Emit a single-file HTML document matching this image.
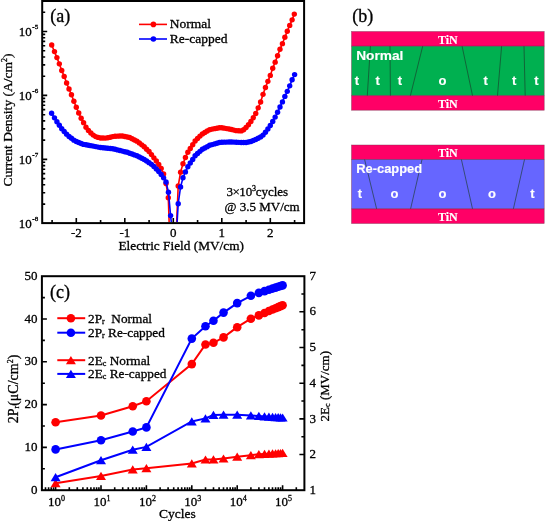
<!DOCTYPE html>
<html><head><meta charset="utf-8"><style>
html,body{margin:0;padding:0;background:#fff;}
body{width:550px;height:521px;overflow:hidden;font-family:"Liberation Serif",serif;}
svg{display:block;will-change:transform;}
text{stroke:#000;stroke-width:0.3px;}
text[fill="#fff"]{stroke:#fff;stroke-width:0.15px;}
</style></head><body>
<svg width="550" height="521" viewBox="0 0 550 521">
<defs><clipPath id="clipa"><rect x="43" y="2" width="260" height="220"/></clipPath>
<clipPath id="clipc"><rect x="43" y="277" width="260" height="213"/></clipPath></defs>
<rect width="550" height="521" fill="#fff"/>
<rect x="42.2" y="1" width="261.90000000000003" height="222.1" fill="none" stroke="#000" stroke-width="2"/>
<path d="M52.1 223.1v-3 M76.3 223.1v-5 M100.6 223.1v-3 M124.8 223.1v-5 M149.1 223.1v-3 M173.3 223.1v-5 M197.6 223.1v-3 M221.8 223.1v-5 M246.1 223.1v-3 M270.3 223.1v-5 M294.6 223.1v-3 M42.2 204.1h3 M42.2 192.8h3 M42.2 184.8h3 M42.2 178.6h3 M42.2 173.6h3 M42.2 169.3h3 M42.2 165.6h3 M42.2 162.3h3 M42.2 159.4h5 M42.2 140.1h3 M42.2 128.9h3 M42.2 120.9h3 M42.2 114.7h3 M42.2 109.6h3 M42.2 105.3h3 M42.2 101.6h3 M42.2 98.4h3 M42.2 95.4h5 M42.2 76.2h3 M42.2 64.9h3 M42.2 57.0h3 M42.2 50.8h3 M42.2 45.7h3 M42.2 41.4h3 M42.2 37.7h3 M42.2 34.4h3 M42.2 31.5h5 M42.2 12.3h3" stroke="#000" stroke-width="1.6" fill="none"/>
<text x="76.3" y="236.8" font-family="Liberation Serif" font-size="13" text-anchor="middle">-2</text>
<text x="124.8" y="236.8" font-family="Liberation Serif" font-size="13" text-anchor="middle">-1</text>
<text x="173.3" y="236.8" font-family="Liberation Serif" font-size="13" text-anchor="middle">0</text>
<text x="221.8" y="236.8" font-family="Liberation Serif" font-size="13" text-anchor="middle">1</text>
<text x="270.3" y="236.8" font-family="Liberation Serif" font-size="13" text-anchor="middle">2</text>
<text x="31.8" y="227.8" font-family="Liberation Serif" font-size="13" text-anchor="end">10</text>
<text x="32.3" y="221.2" font-family="Liberation Serif" font-size="7">-8</text>
<text x="31.8" y="163.9" font-family="Liberation Serif" font-size="13" text-anchor="end">10</text>
<text x="32.3" y="157.3" font-family="Liberation Serif" font-size="7">-7</text>
<text x="31.8" y="99.9" font-family="Liberation Serif" font-size="13" text-anchor="end">10</text>
<text x="32.3" y="93.3" font-family="Liberation Serif" font-size="7">-6</text>
<text x="31.8" y="36.0" font-family="Liberation Serif" font-size="13" text-anchor="end">10</text>
<text x="32.3" y="29.4" font-family="Liberation Serif" font-size="7">-5</text>
<text x="181.2" y="250.4" font-family="Liberation Serif" font-size="13.3" text-anchor="middle">Electric Field (MV/cm)</text>
<text transform="translate(11.9,120) rotate(-90)" font-family="Liberation Serif" font-size="13.5" text-anchor="middle">Current Density (A/cm<tspan font-size="8" dy="-5">2</tspan><tspan dy="5">)</tspan></text>
<text x="50.3" y="22.3" font-family="Liberation Serif" font-size="18">(a)</text>
<path d="M139 24.4H167" stroke="#f00" stroke-width="1.6"/><circle cx="153.4" cy="24.4" r="2.8" fill="#f00"/>
<path d="M139 39H167" stroke="#00f" stroke-width="1.6"/><circle cx="153.4" cy="39" r="2.8" fill="#00f"/>
<text x="169.8" y="28.4" font-family="Liberation Serif" font-size="13.5">Normal</text>
<text x="169.8" y="43.0" font-family="Liberation Serif" font-size="13.5">Re-capped</text>
<text x="226.5" y="196" font-family="Liberation Serif" font-size="13">3<tspan dx="-0.6">×</tspan><tspan dx="-0.5">10</tspan><tspan font-size="8" dy="-5.5" dx="-0.3">3</tspan><tspan dy="5.5" dx="-0.3">cycles</tspan></text>
<text x="224.5" y="210.7" font-family="Liberation Serif" font-size="13">@ 3.5 MV/cm</text>
<g clip-path="url(#clipa)">
<path d="M51.70 45.00 L54.48 51.62 L56.90 57.61 L59.33 63.83 L61.75 70.44 L64.18 76.38 L66.60 83.07 L69.03 88.94 L71.45 94.80 L73.88 101.19 L76.30 107.27 L78.73 112.93 L81.15 118.22 L83.58 122.64 L86.00 127.20 L88.43 130.41 L90.85 132.98 L93.28 135.12 L95.70 136.59 L98.13 137.39 L100.55 138.01 L102.98 138.04 L105.40 138.08 L107.83 137.81 L110.25 137.20 L112.68 136.58 L115.10 136.30 L117.53 136.15 L119.95 136.00 L122.38 136.07 L124.80 136.55 L127.23 137.03 L129.65 137.53 L132.08 138.74 L134.50 139.95 L136.93 141.16 L139.35 142.91 L141.78 144.86 L144.20 146.82 L146.62 149.18 L149.05 151.56 L151.48 154.60 L153.90 157.86 L156.33 161.06 L158.75 164.55 L161.18 168.57 L163.60 174.05 L166.03 183.46 L168.30 197.70 L169.2 224 M176.6 224 L178.20 186.00 L180.58 172.15 L183.00 163.70 L185.43 157.43 L187.85 152.22 L190.28 148.49 L192.70 144.75 L195.12 141.02 L197.55 138.55 L199.98 136.12 L202.40 133.91 L204.83 132.48 L207.25 131.06 L209.68 129.63 L212.10 129.09 L214.53 128.64 L216.95 128.19 L219.38 127.75 L221.80 127.71 L224.23 128.16 L226.65 128.61 L229.08 129.07 L231.50 129.52 L233.93 130.10 L236.35 130.63 L238.78 130.82 L241.20 130.90 L243.62 129.69 L246.05 127.52 L248.48 124.68 L250.90 121.46 L253.32 117.79 L255.75 113.48 L258.18 107.86 L260.60 101.98 L263.03 94.35 L265.45 87.51 L267.88 81.37 L270.30 75.40 L272.73 68.28 L275.15 62.17 L277.57 55.70 L280.00 49.27 L282.43 43.67 L284.85 37.28 L287.28 31.32 L289.70 25.38 L292.12 19.87 L294.30 14.10" stroke="#f00" stroke-width="1.6" fill="none"/><g fill="#f00"><circle cx="51.70" cy="45.00" r="2.7"/><circle cx="54.48" cy="51.62" r="2.7"/><circle cx="56.90" cy="57.61" r="2.7"/><circle cx="59.33" cy="63.83" r="2.7"/><circle cx="61.75" cy="70.44" r="2.7"/><circle cx="64.18" cy="76.38" r="2.7"/><circle cx="66.60" cy="83.07" r="2.7"/><circle cx="69.03" cy="88.94" r="2.7"/><circle cx="71.45" cy="94.80" r="2.7"/><circle cx="73.88" cy="101.19" r="2.7"/><circle cx="76.30" cy="107.27" r="2.7"/><circle cx="78.73" cy="112.93" r="2.7"/><circle cx="81.15" cy="118.22" r="2.7"/><circle cx="83.58" cy="122.64" r="2.7"/><circle cx="86.00" cy="127.20" r="2.7"/><circle cx="88.43" cy="130.41" r="2.7"/><circle cx="90.85" cy="132.98" r="2.7"/><circle cx="93.28" cy="135.12" r="2.7"/><circle cx="95.70" cy="136.59" r="2.7"/><circle cx="98.13" cy="137.39" r="2.7"/><circle cx="100.55" cy="138.01" r="2.7"/><circle cx="102.98" cy="138.04" r="2.7"/><circle cx="105.40" cy="138.08" r="2.7"/><circle cx="107.83" cy="137.81" r="2.7"/><circle cx="110.25" cy="137.20" r="2.7"/><circle cx="112.68" cy="136.58" r="2.7"/><circle cx="115.10" cy="136.30" r="2.7"/><circle cx="117.53" cy="136.15" r="2.7"/><circle cx="119.95" cy="136.00" r="2.7"/><circle cx="122.38" cy="136.07" r="2.7"/><circle cx="124.80" cy="136.55" r="2.7"/><circle cx="127.23" cy="137.03" r="2.7"/><circle cx="129.65" cy="137.53" r="2.7"/><circle cx="132.08" cy="138.74" r="2.7"/><circle cx="134.50" cy="139.95" r="2.7"/><circle cx="136.93" cy="141.16" r="2.7"/><circle cx="139.35" cy="142.91" r="2.7"/><circle cx="141.78" cy="144.86" r="2.7"/><circle cx="144.20" cy="146.82" r="2.7"/><circle cx="146.62" cy="149.18" r="2.7"/><circle cx="149.05" cy="151.56" r="2.7"/><circle cx="151.48" cy="154.60" r="2.7"/><circle cx="153.90" cy="157.86" r="2.7"/><circle cx="156.33" cy="161.06" r="2.7"/><circle cx="158.75" cy="164.55" r="2.7"/><circle cx="161.18" cy="168.57" r="2.7"/><circle cx="163.60" cy="174.05" r="2.7"/><circle cx="166.03" cy="183.46" r="2.7"/><circle cx="168.30" cy="197.70" r="2.7"/><circle cx="178.20" cy="186.00" r="2.7"/><circle cx="180.58" cy="172.15" r="2.7"/><circle cx="183.00" cy="163.70" r="2.7"/><circle cx="185.43" cy="157.43" r="2.7"/><circle cx="187.85" cy="152.22" r="2.7"/><circle cx="190.28" cy="148.49" r="2.7"/><circle cx="192.70" cy="144.75" r="2.7"/><circle cx="195.12" cy="141.02" r="2.7"/><circle cx="197.55" cy="138.55" r="2.7"/><circle cx="199.98" cy="136.12" r="2.7"/><circle cx="202.40" cy="133.91" r="2.7"/><circle cx="204.83" cy="132.48" r="2.7"/><circle cx="207.25" cy="131.06" r="2.7"/><circle cx="209.68" cy="129.63" r="2.7"/><circle cx="212.10" cy="129.09" r="2.7"/><circle cx="214.53" cy="128.64" r="2.7"/><circle cx="216.95" cy="128.19" r="2.7"/><circle cx="219.38" cy="127.75" r="2.7"/><circle cx="221.80" cy="127.71" r="2.7"/><circle cx="224.23" cy="128.16" r="2.7"/><circle cx="226.65" cy="128.61" r="2.7"/><circle cx="229.08" cy="129.07" r="2.7"/><circle cx="231.50" cy="129.52" r="2.7"/><circle cx="233.93" cy="130.10" r="2.7"/><circle cx="236.35" cy="130.63" r="2.7"/><circle cx="238.78" cy="130.82" r="2.7"/><circle cx="241.20" cy="130.90" r="2.7"/><circle cx="243.62" cy="129.69" r="2.7"/><circle cx="246.05" cy="127.52" r="2.7"/><circle cx="248.48" cy="124.68" r="2.7"/><circle cx="250.90" cy="121.46" r="2.7"/><circle cx="253.32" cy="117.79" r="2.7"/><circle cx="255.75" cy="113.48" r="2.7"/><circle cx="258.18" cy="107.86" r="2.7"/><circle cx="260.60" cy="101.98" r="2.7"/><circle cx="263.03" cy="94.35" r="2.7"/><circle cx="265.45" cy="87.51" r="2.7"/><circle cx="267.88" cy="81.37" r="2.7"/><circle cx="270.30" cy="75.40" r="2.7"/><circle cx="272.73" cy="68.28" r="2.7"/><circle cx="275.15" cy="62.17" r="2.7"/><circle cx="277.57" cy="55.70" r="2.7"/><circle cx="280.00" cy="49.27" r="2.7"/><circle cx="282.43" cy="43.67" r="2.7"/><circle cx="284.85" cy="37.28" r="2.7"/><circle cx="287.28" cy="31.32" r="2.7"/><circle cx="289.70" cy="25.38" r="2.7"/><circle cx="292.12" cy="19.87" r="2.7"/><circle cx="294.30" cy="14.10" r="2.7"/></g>
<path d="M51.60 113.20 L54.48 117.87 L56.90 121.73 L59.33 125.26 L61.75 128.63 L64.18 131.47 L66.60 134.15 L69.03 136.47 L71.45 138.30 L73.88 140.13 L76.30 141.49 L78.73 142.51 L81.15 143.52 L83.58 144.40 L86.00 144.82 L88.43 145.24 L90.85 145.66 L93.28 146.08 L95.70 146.59 L98.13 147.10 L100.55 147.56 L102.98 147.81 L105.40 148.06 L107.83 148.32 L110.25 148.57 L112.68 148.82 L115.10 149.32 L117.53 149.91 L119.95 150.50 L122.38 151.09 L124.80 151.69 L127.23 152.32 L129.65 153.18 L132.08 154.04 L134.50 154.90 L136.93 155.76 L139.35 156.93 L141.78 158.22 L144.20 159.50 L146.62 160.95 L149.05 162.65 L151.48 164.35 L153.90 166.50 L156.33 168.93 L158.75 171.56 L161.18 174.54 L163.60 177.87 L166.03 182.07 L168.45 192.22 L170.60 215.60 L171.5 224 M177 224 L178.20 203.70 L180.58 186.88 L183.00 177.70 L185.43 171.88 L187.85 166.71 L190.28 163.05 L192.70 159.43 L195.12 155.81 L197.55 153.56 L199.98 151.35 L202.40 149.32 L204.83 147.99 L207.25 146.66 L209.68 145.32 L212.10 144.59 L214.53 143.92 L216.95 143.24 L219.38 142.57 L221.80 142.18 L224.23 142.13 L226.65 142.09 L229.08 142.04 L231.50 142.00 L233.93 142.12 L236.35 142.23 L238.78 142.34 L241.20 142.44 L243.62 142.53 L246.05 142.49 L248.48 142.07 L250.90 141.44 L253.32 140.46 L255.75 139.47 L258.18 138.19 L260.60 136.90 L263.03 135.12 L265.45 132.19 L267.88 129.00 L270.30 125.49 L272.73 121.45 L275.15 117.11 L277.57 112.31 L280.00 106.98 L282.43 101.91 L284.85 96.38 L287.28 91.33 L289.70 85.85 L292.12 79.74 L294.60 74.60" stroke="#00f" stroke-width="1.6" fill="none"/><g fill="#00f"><circle cx="51.60" cy="113.20" r="2.7"/><circle cx="54.48" cy="117.87" r="2.7"/><circle cx="56.90" cy="121.73" r="2.7"/><circle cx="59.33" cy="125.26" r="2.7"/><circle cx="61.75" cy="128.63" r="2.7"/><circle cx="64.18" cy="131.47" r="2.7"/><circle cx="66.60" cy="134.15" r="2.7"/><circle cx="69.03" cy="136.47" r="2.7"/><circle cx="71.45" cy="138.30" r="2.7"/><circle cx="73.88" cy="140.13" r="2.7"/><circle cx="76.30" cy="141.49" r="2.7"/><circle cx="78.73" cy="142.51" r="2.7"/><circle cx="81.15" cy="143.52" r="2.7"/><circle cx="83.58" cy="144.40" r="2.7"/><circle cx="86.00" cy="144.82" r="2.7"/><circle cx="88.43" cy="145.24" r="2.7"/><circle cx="90.85" cy="145.66" r="2.7"/><circle cx="93.28" cy="146.08" r="2.7"/><circle cx="95.70" cy="146.59" r="2.7"/><circle cx="98.13" cy="147.10" r="2.7"/><circle cx="100.55" cy="147.56" r="2.7"/><circle cx="102.98" cy="147.81" r="2.7"/><circle cx="105.40" cy="148.06" r="2.7"/><circle cx="107.83" cy="148.32" r="2.7"/><circle cx="110.25" cy="148.57" r="2.7"/><circle cx="112.68" cy="148.82" r="2.7"/><circle cx="115.10" cy="149.32" r="2.7"/><circle cx="117.53" cy="149.91" r="2.7"/><circle cx="119.95" cy="150.50" r="2.7"/><circle cx="122.38" cy="151.09" r="2.7"/><circle cx="124.80" cy="151.69" r="2.7"/><circle cx="127.23" cy="152.32" r="2.7"/><circle cx="129.65" cy="153.18" r="2.7"/><circle cx="132.08" cy="154.04" r="2.7"/><circle cx="134.50" cy="154.90" r="2.7"/><circle cx="136.93" cy="155.76" r="2.7"/><circle cx="139.35" cy="156.93" r="2.7"/><circle cx="141.78" cy="158.22" r="2.7"/><circle cx="144.20" cy="159.50" r="2.7"/><circle cx="146.62" cy="160.95" r="2.7"/><circle cx="149.05" cy="162.65" r="2.7"/><circle cx="151.48" cy="164.35" r="2.7"/><circle cx="153.90" cy="166.50" r="2.7"/><circle cx="156.33" cy="168.93" r="2.7"/><circle cx="158.75" cy="171.56" r="2.7"/><circle cx="161.18" cy="174.54" r="2.7"/><circle cx="163.60" cy="177.87" r="2.7"/><circle cx="166.03" cy="182.07" r="2.7"/><circle cx="168.45" cy="192.22" r="2.7"/><circle cx="170.60" cy="215.60" r="2.7"/><circle cx="178.20" cy="203.70" r="2.7"/><circle cx="180.58" cy="186.88" r="2.7"/><circle cx="183.00" cy="177.70" r="2.7"/><circle cx="185.43" cy="171.88" r="2.7"/><circle cx="187.85" cy="166.71" r="2.7"/><circle cx="190.28" cy="163.05" r="2.7"/><circle cx="192.70" cy="159.43" r="2.7"/><circle cx="195.12" cy="155.81" r="2.7"/><circle cx="197.55" cy="153.56" r="2.7"/><circle cx="199.98" cy="151.35" r="2.7"/><circle cx="202.40" cy="149.32" r="2.7"/><circle cx="204.83" cy="147.99" r="2.7"/><circle cx="207.25" cy="146.66" r="2.7"/><circle cx="209.68" cy="145.32" r="2.7"/><circle cx="212.10" cy="144.59" r="2.7"/><circle cx="214.53" cy="143.92" r="2.7"/><circle cx="216.95" cy="143.24" r="2.7"/><circle cx="219.38" cy="142.57" r="2.7"/><circle cx="221.80" cy="142.18" r="2.7"/><circle cx="224.23" cy="142.13" r="2.7"/><circle cx="226.65" cy="142.09" r="2.7"/><circle cx="229.08" cy="142.04" r="2.7"/><circle cx="231.50" cy="142.00" r="2.7"/><circle cx="233.93" cy="142.12" r="2.7"/><circle cx="236.35" cy="142.23" r="2.7"/><circle cx="238.78" cy="142.34" r="2.7"/><circle cx="241.20" cy="142.44" r="2.7"/><circle cx="243.62" cy="142.53" r="2.7"/><circle cx="246.05" cy="142.49" r="2.7"/><circle cx="248.48" cy="142.07" r="2.7"/><circle cx="250.90" cy="141.44" r="2.7"/><circle cx="253.32" cy="140.46" r="2.7"/><circle cx="255.75" cy="139.47" r="2.7"/><circle cx="258.18" cy="138.19" r="2.7"/><circle cx="260.60" cy="136.90" r="2.7"/><circle cx="263.03" cy="135.12" r="2.7"/><circle cx="265.45" cy="132.19" r="2.7"/><circle cx="267.88" cy="129.00" r="2.7"/><circle cx="270.30" cy="125.49" r="2.7"/><circle cx="272.73" cy="121.45" r="2.7"/><circle cx="275.15" cy="117.11" r="2.7"/><circle cx="277.57" cy="112.31" r="2.7"/><circle cx="280.00" cy="106.98" r="2.7"/><circle cx="282.43" cy="101.91" r="2.7"/><circle cx="284.85" cy="96.38" r="2.7"/><circle cx="287.28" cy="91.33" r="2.7"/><circle cx="289.70" cy="85.85" r="2.7"/><circle cx="292.12" cy="79.74" r="2.7"/><circle cx="294.60" cy="74.60" r="2.7"/></g>
</g>
<text x="352.3" y="22.3" font-family="Liberation Serif" font-size="18">(b)</text>
<rect x="351.5" y="31.5" width="192.70000000000005" height="14.7" fill="#ff0066"/><rect x="351.5" y="46.2" width="192.70000000000005" height="49.4" fill="#00b050"/><rect x="351.5" y="95.6" width="192.70000000000005" height="14.6" fill="#ff0066"/><rect x="351.5" y="31.5" width="192.70000000000005" height="78.69999999999999" fill="none" stroke="#7a3050" stroke-width="0.6" stroke-opacity="0.7"/><path d="M351.5 46.2H544.2M351.5 95.6H544.2" stroke="#5a2040" stroke-width="0.7" stroke-opacity="0.8"/><path d="M370.4 46.2L367.3 95.6M390 46.2L390.4 95.6M422.7 46.2L410.4 95.6M462.1 46.2L472.5 95.6M501.6 46.2L497.5 95.6M524 46.2L525.2 95.6" stroke="#1a3a2a" stroke-width="0.8" stroke-opacity="0.8" fill="none"/><text x="447.8" y="43.6" font-family="Liberation Serif" font-weight="bold" font-size="12" fill="#fff" text-anchor="middle">TiN</text><text x="447.8" y="107.7" font-family="Liberation Serif" font-weight="bold" font-size="12" fill="#fff" text-anchor="middle">TiN</text><text x="356.2" y="59.7" font-family="Liberation Sans" font-weight="bold" font-size="13.7" fill="#fff">Normal</text><text x="357" y="84.7" font-family="Liberation Sans" font-weight="bold" font-size="13" fill="#fff" text-anchor="middle">t</text><text x="377.6" y="84.7" font-family="Liberation Sans" font-weight="bold" font-size="13" fill="#fff" text-anchor="middle">t</text><text x="400" y="84.7" font-family="Liberation Sans" font-weight="bold" font-size="13" fill="#fff" text-anchor="middle">t</text><text x="442.6" y="84.7" font-family="Liberation Sans" font-weight="bold" font-size="13" fill="#fff" text-anchor="middle">o</text><text x="485.7" y="84.7" font-family="Liberation Sans" font-weight="bold" font-size="13" fill="#fff" text-anchor="middle">t</text><text x="514.1" y="84.7" font-family="Liberation Sans" font-weight="bold" font-size="13" fill="#fff" text-anchor="middle">t</text><text x="536.3" y="84.7" font-family="Liberation Sans" font-weight="bold" font-size="13" fill="#fff" text-anchor="middle">t</text>
<rect x="351.5" y="145" width="192.70000000000005" height="14.5" fill="#ff0066"/><rect x="351.5" y="159.5" width="192.70000000000005" height="49.3" fill="#6666ff"/><rect x="351.5" y="208.8" width="192.70000000000005" height="14.7" fill="#ff0066"/><rect x="351.5" y="145" width="192.70000000000005" height="78.5" fill="none" stroke="#7a3050" stroke-width="0.6" stroke-opacity="0.7"/><path d="M351.5 159.5H544.2M351.5 208.8H544.2" stroke="#5a2040" stroke-width="0.7" stroke-opacity="0.8"/><path d="M364.6 159.5L376.6 208.8M422 159.5L410.6 208.8M461.4 159.5L472.5 208.8M524.5 159.5L513.4 208.8" stroke="#1a3a2a" stroke-width="0.8" stroke-opacity="0.8" fill="none"/><text x="447.8" y="156.9" font-family="Liberation Serif" font-weight="bold" font-size="12" fill="#fff" text-anchor="middle">TiN</text><text x="447.8" y="221.0" font-family="Liberation Serif" font-weight="bold" font-size="12" fill="#fff" text-anchor="middle">TiN</text><text x="356.2" y="173.0" font-family="Liberation Sans" font-weight="bold" font-size="12.9" fill="#fff">Re-capped</text><text x="360" y="198.0" font-family="Liberation Sans" font-weight="bold" font-size="13" fill="#fff" text-anchor="middle">t</text><text x="394.6" y="198.0" font-family="Liberation Sans" font-weight="bold" font-size="13" fill="#fff" text-anchor="middle">o</text><text x="442.6" y="198.0" font-family="Liberation Sans" font-weight="bold" font-size="13" fill="#fff" text-anchor="middle">o</text><text x="492.1" y="198.0" font-family="Liberation Sans" font-weight="bold" font-size="13" fill="#fff" text-anchor="middle">o</text><text x="532.3" y="198.0" font-family="Liberation Sans" font-weight="bold" font-size="13" fill="#fff" text-anchor="middle">t</text>
<rect x="41.9" y="276.2" width="262.5" height="214.0" fill="none" stroke="#000" stroke-width="2"/>
<path d="M45.5 490.2v-3 M48.6 490.2v-3 M51.2 490.2v-3 M53.5 490.2v-3 M55.6 490.2v-5 M69.3 490.2v-3 M77.3 490.2v-3 M82.9 490.2v-3 M87.3 490.2v-3 M90.9 490.2v-3 M94.0 490.2v-3 M96.6 490.2v-3 M98.9 490.2v-3 M101.0 490.2v-5 M114.7 490.2v-3 M122.7 490.2v-3 M128.3 490.2v-3 M132.7 490.2v-3 M136.3 490.2v-3 M139.4 490.2v-3 M142.0 490.2v-3 M144.3 490.2v-3 M146.4 490.2v-5 M160.1 490.2v-3 M168.1 490.2v-3 M173.7 490.2v-3 M178.1 490.2v-3 M181.7 490.2v-3 M184.8 490.2v-3 M187.4 490.2v-3 M189.7 490.2v-3 M191.8 490.2v-5 M205.5 490.2v-3 M213.5 490.2v-3 M219.1 490.2v-3 M223.5 490.2v-3 M227.1 490.2v-3 M230.2 490.2v-3 M232.8 490.2v-3 M235.1 490.2v-3 M237.2 490.2v-5 M250.9 490.2v-3 M258.9 490.2v-3 M264.5 490.2v-3 M268.9 490.2v-3 M272.5 490.2v-3 M275.6 490.2v-3 M278.2 490.2v-3 M280.5 490.2v-3 M282.6 490.2v-5 M296.3 490.2v-3 M41.9 468.8h3 M41.9 447.4h5 M41.9 426.0h3 M41.9 404.6h5 M41.9 383.2h3 M41.9 361.8h5 M41.9 340.4h3 M41.9 319.0h5 M41.9 297.6h3 M304.4 454.5h-5 M304.4 436.7h-3 M304.4 418.9h-5 M304.4 401.0h-3 M304.4 383.2h-5 M304.4 365.4h-3 M304.4 347.5h-5 M304.4 329.7h-3 M304.4 311.8h-5 M304.4 294.0h-3" stroke="#000" stroke-width="1.6" fill="none"/>
<text x="37.5" y="493.8" font-family="Liberation Serif" font-size="13" text-anchor="end">0</text>
<text x="37.5" y="451.0" font-family="Liberation Serif" font-size="13" text-anchor="end">10</text>
<text x="37.5" y="408.2" font-family="Liberation Serif" font-size="13" text-anchor="end">20</text>
<text x="37.5" y="365.4" font-family="Liberation Serif" font-size="13" text-anchor="end">30</text>
<text x="37.5" y="322.6" font-family="Liberation Serif" font-size="13" text-anchor="end">40</text>
<text x="37.5" y="279.8" font-family="Liberation Serif" font-size="13" text-anchor="end">50</text>
<text x="309.5" y="493.8" font-family="Liberation Serif" font-size="13">1</text>
<text x="309.5" y="458.1" font-family="Liberation Serif" font-size="13">2</text>
<text x="309.5" y="422.5" font-family="Liberation Serif" font-size="13">3</text>
<text x="309.5" y="386.8" font-family="Liberation Serif" font-size="13">4</text>
<text x="309.5" y="351.1" font-family="Liberation Serif" font-size="13">5</text>
<text x="309.5" y="315.4" font-family="Liberation Serif" font-size="13">6</text>
<text x="309.5" y="279.8" font-family="Liberation Serif" font-size="13">7</text>
<text x="48.1" y="506" font-family="Liberation Serif" font-size="13">10<tspan font-size="8" dy="-5.5">0</tspan></text>
<text x="93.5" y="506" font-family="Liberation Serif" font-size="13">10<tspan font-size="8" dy="-5.5">1</tspan></text>
<text x="138.9" y="506" font-family="Liberation Serif" font-size="13">10<tspan font-size="8" dy="-5.5">2</tspan></text>
<text x="184.3" y="506" font-family="Liberation Serif" font-size="13">10<tspan font-size="8" dy="-5.5">3</tspan></text>
<text x="229.7" y="506" font-family="Liberation Serif" font-size="13">10<tspan font-size="8" dy="-5.5">4</tspan></text>
<text x="275.1" y="506" font-family="Liberation Serif" font-size="13">10<tspan font-size="8" dy="-5.5">5</tspan></text>
<text x="177.4" y="518.4" font-family="Liberation Serif" font-size="13.5" text-anchor="middle">Cycles</text>
<text transform="translate(18.0,389.0) rotate(-90)" font-family="Liberation Serif" font-size="14" text-anchor="middle">2P<tspan font-size="8" dy="1">r</tspan><tspan dy="-1">(μC/cm</tspan><tspan font-size="8" dy="-5">2</tspan><tspan dy="5">)</tspan></text>
<text transform="translate(328.8,386.2) rotate(-90)" font-family="Liberation Serif" font-size="13" text-anchor="middle">2E<tspan font-size="8" dy="1">c</tspan><tspan dy="-1"> (MV/cm)</tspan></text>
<text x="50.1" y="297.5" font-family="Liberation Serif" font-size="18">(c)</text>
<g clip-path="url(#clipc)">
<path d="M55.60 483.20 L101.00 475.90 L132.73 469.50 L146.40 468.30 L191.80 463.40 L205.47 459.60 L213.46 459.40 L223.53 458.60 L237.20 456.70 L250.87 455.20 L258.86 454.20 L264.53 453.91 L268.93 453.69 L272.53 453.51 L275.57 453.36 L278.20 453.22 L280.52 453.11 L282.60 453.00" stroke="#f00" stroke-width="2" fill="none"/><g fill="#f00"><path d="M55.60 479.00L60.60 487.20L50.60 487.20Z"/><path d="M101.00 471.70L106.00 479.90L96.00 479.90Z"/><path d="M132.73 465.30L137.73 473.50L127.73 473.50Z"/><path d="M146.40 464.10L151.40 472.30L141.40 472.30Z"/><path d="M191.80 459.20L196.80 467.40L186.80 467.40Z"/><path d="M205.47 455.40L210.47 463.60L200.47 463.60Z"/><path d="M213.46 455.20L218.46 463.40L208.46 463.40Z"/><path d="M223.53 454.40L228.53 462.60L218.53 462.60Z"/><path d="M237.20 452.50L242.20 460.70L232.20 460.70Z"/><path d="M250.87 451.00L255.87 459.20L245.87 459.20Z"/><path d="M258.86 450.00L263.86 458.20L253.86 458.20Z"/><path d="M264.53 449.71L269.53 457.91L259.53 457.91Z"/><path d="M268.93 449.49L273.93 457.69L263.93 457.69Z"/><path d="M272.53 449.31L277.53 457.51L267.53 457.51Z"/><path d="M275.57 449.16L280.57 457.36L270.57 457.36Z"/><path d="M278.20 449.02L283.20 457.22L273.20 457.22Z"/><path d="M280.52 448.91L285.52 457.11L275.52 457.11Z"/><path d="M282.60 448.80L287.60 457.00L277.60 457.00Z"/></g>
<path d="M55.60 477.30 L101.00 460.30 L132.73 449.80 L146.40 446.90 L191.80 421.40 L205.47 418.40 L213.46 414.90 L223.53 414.70 L237.20 414.70 L250.87 415.40 L258.86 416.00 L264.53 416.38 L268.93 416.68 L272.53 416.92 L275.57 417.13 L278.20 417.30 L280.52 417.46 L282.60 417.60" stroke="#00f" stroke-width="2" fill="none"/><g fill="#00f"><path d="M55.60 473.10L60.60 481.30L50.60 481.30Z"/><path d="M101.00 456.10L106.00 464.30L96.00 464.30Z"/><path d="M132.73 445.60L137.73 453.80L127.73 453.80Z"/><path d="M146.40 442.70L151.40 450.90L141.40 450.90Z"/><path d="M191.80 417.20L196.80 425.40L186.80 425.40Z"/><path d="M205.47 414.20L210.47 422.40L200.47 422.40Z"/><path d="M213.46 410.70L218.46 418.90L208.46 418.90Z"/><path d="M223.53 410.50L228.53 418.70L218.53 418.70Z"/><path d="M237.20 410.50L242.20 418.70L232.20 418.70Z"/><path d="M250.87 411.20L255.87 419.40L245.87 419.40Z"/><path d="M258.86 411.80L263.86 420.00L253.86 420.00Z"/><path d="M264.53 412.18L269.53 420.38L259.53 420.38Z"/><path d="M268.93 412.48L273.93 420.68L263.93 420.68Z"/><path d="M272.53 412.72L277.53 420.92L267.53 420.92Z"/><path d="M275.57 412.93L280.57 421.13L270.57 421.13Z"/><path d="M278.20 413.10L283.20 421.30L273.20 421.30Z"/><path d="M280.52 413.26L285.52 421.46L275.52 421.46Z"/><path d="M282.60 413.40L287.60 421.60L277.60 421.60Z"/></g>
<path d="M55.60 422.20 L101.00 415.50 L132.73 406.20 L146.40 401.20 L191.80 364.10 L205.47 344.50 L213.46 342.80 L223.53 337.40 L237.20 327.20 L250.87 318.70 L258.86 315.40 L264.53 312.96 L268.93 311.07 L272.53 309.53 L275.57 308.22 L278.20 307.09 L280.52 306.09 L282.60 305.20" stroke="#f00" stroke-width="2" fill="none"/><g fill="#f00"><circle cx="55.60" cy="422.20" r="4.3"/><circle cx="101.00" cy="415.50" r="4.3"/><circle cx="132.73" cy="406.20" r="4.3"/><circle cx="146.40" cy="401.20" r="4.3"/><circle cx="191.80" cy="364.10" r="4.3"/><circle cx="205.47" cy="344.50" r="4.3"/><circle cx="213.46" cy="342.80" r="4.3"/><circle cx="223.53" cy="337.40" r="4.3"/><circle cx="237.20" cy="327.20" r="4.3"/><circle cx="250.87" cy="318.70" r="4.3"/><circle cx="258.86" cy="315.40" r="4.3"/><circle cx="264.53" cy="312.96" r="4.3"/><circle cx="268.93" cy="311.07" r="4.3"/><circle cx="272.53" cy="309.53" r="4.3"/><circle cx="275.57" cy="308.22" r="4.3"/><circle cx="278.20" cy="307.09" r="4.3"/><circle cx="280.52" cy="306.09" r="4.3"/><circle cx="282.60" cy="305.20" r="4.3"/></g>
<path d="M55.60 449.40 L101.00 440.20 L132.73 431.50 L146.40 427.40 L191.80 338.60 L205.47 326.30 L213.46 320.80 L223.53 312.60 L237.20 303.10 L250.87 295.80 L258.86 292.90 L264.53 291.11 L268.93 289.72 L272.53 288.58 L275.57 287.62 L278.20 286.79 L280.52 286.06 L282.60 285.40" stroke="#00f" stroke-width="2" fill="none"/><g fill="#00f"><circle cx="55.60" cy="449.40" r="4.3"/><circle cx="101.00" cy="440.20" r="4.3"/><circle cx="132.73" cy="431.50" r="4.3"/><circle cx="146.40" cy="427.40" r="4.3"/><circle cx="191.80" cy="338.60" r="4.3"/><circle cx="205.47" cy="326.30" r="4.3"/><circle cx="213.46" cy="320.80" r="4.3"/><circle cx="223.53" cy="312.60" r="4.3"/><circle cx="237.20" cy="303.10" r="4.3"/><circle cx="250.87" cy="295.80" r="4.3"/><circle cx="258.86" cy="292.90" r="4.3"/><circle cx="264.53" cy="291.11" r="4.3"/><circle cx="268.93" cy="289.72" r="4.3"/><circle cx="272.53" cy="288.58" r="4.3"/><circle cx="275.57" cy="287.62" r="4.3"/><circle cx="278.20" cy="286.79" r="4.3"/><circle cx="280.52" cy="286.06" r="4.3"/><circle cx="282.60" cy="285.40" r="4.3"/></g>
</g>
<path d="M57.3 318.2H85.2" stroke="#f00" stroke-width="2"/><circle cx="70.9" cy="318.2" r="4.3" fill="#f00"/><text x="88.0" y="322.7" font-family="Liberation Serif" font-size="13.3">2P<tspan font-size="8" dy="1">r</tspan><tspan dy="-1">&#160; Normal</tspan></text>
<path d="M57.3 332.7H85.2" stroke="#00f" stroke-width="2"/><circle cx="70.9" cy="332.7" r="4.3" fill="#00f"/><text x="88.0" y="337.2" font-family="Liberation Serif" font-size="13.3">2P<tspan font-size="8" dy="1">r</tspan><tspan dy="-1"> Re-capped</tspan></text>
<path d="M57.3 360.2H85.2" stroke="#f00" stroke-width="2"/><path d="M70.9 356.00L75.9 364.20L65.9 364.20Z" fill="#f00"/><text x="88.0" y="364.7" font-family="Liberation Serif" font-size="13.3">2E<tspan font-size="8" dy="1">c</tspan><tspan dy="-1"> Normal</tspan></text>
<path d="M57.3 373.9H85.2" stroke="#00f" stroke-width="2"/><path d="M70.9 369.70L75.9 377.90L65.9 377.90Z" fill="#00f"/><text x="88.0" y="378.4" font-family="Liberation Serif" font-size="13.3">2E<tspan font-size="8" dy="1">c</tspan><tspan dy="-1"> Re-capped</tspan></text>
</svg>
</body></html>
